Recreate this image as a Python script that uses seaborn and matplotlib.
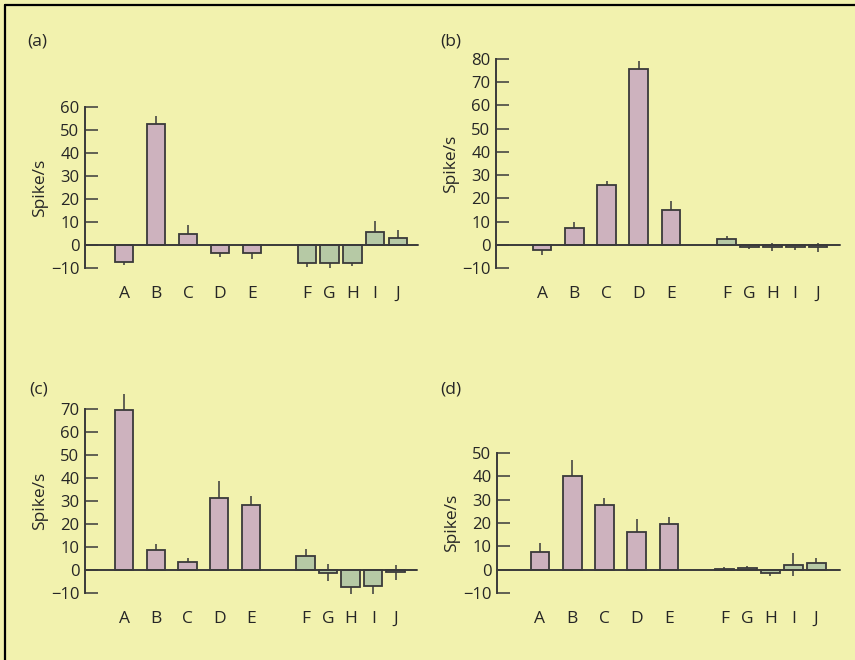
import numpy as np
import pandas as pd
import matplotlib
matplotlib.use('Agg')
import matplotlib.pyplot as plt
import seaborn as sns
from matplotlib.lines import Line2D

# Data (spike/s, mean and error)
categories = ['A', 'B', 'C', 'D', 'E', 'F', 'G', 'H', 'I', 'J']
groups = ['pink'] * 5 + ['green'] * 5

vals_a = [-7.5, 52.8, 4.8, -3.5, -3.5, -7.9, -7.9, -7.9, 5.8, 3.2]
err_a = [1.2, 3.2, 3.7, 1.8, 2.6, 1.5, 2.0, 1.3, 4.7, 3.3]
vals_b = [-2.4, 7.1, 25.7, 75.6, 14.9, 2.6, -1.0, -1.0, -1.0, -1.0]
err_b = [2.2, 2.8, 1.6, 3.5, 4.0, 1.3, 1.0, 1.7, 1.4, 1.9]
vals_c = [69.7, 8.8, 3.3, 31.2, 28.4, 6.2, -1.1, -7.4, -6.8, -1.0]
err_c = [6.8, 2.3, 1.9, 7.4, 3.9, 2.9, 3.6, 3.0, 3.6, 3.2]
vals_d = [7.7, 40.0, 27.6, 16.1, 19.7, 0.3, 0.6, -1.3, 2.1, 3.0]
err_d = [3.9, 7.1, 3.1, 5.5, 2.9, 1.0, 1.0, 1.3, 5.0, 1.9]

# colours
BG = '#F2F2AE'
PINK = '#CDB2BE'
GREEN = '#B6C9A5'
EDGE = '#3A3A3A'
TXT = '#262626'

W, H = 855, 660

sns.set_style('ticks')
plt.rcParams['font.family'] = ['Open Sans', 'DejaVu Sans']
plt.rcParams['font.weight'] = 'medium'

# bar positions: two clusters, the second one packed tighter
xpos = list(np.arange(5)) + list(5.72 + 0.71 * np.arange(5))

# label, values, errors, top tick, (left, right, top, bottom) in px, xlim, label pos
panels = [
    ('(a)', vals_a, err_a, 60, (85, 418, 107, 268), (-1.22, 9.19), (27, 42)),
    ('(b)', vals_b, err_b, 80, (496, 840, 59, 268), (-1.43, 9.24), (440, 42)),
    ('(c)', vals_c, err_c, 70, (85, 417, 409, 593), (-1.23, 9.23), (29, 389)),
    ('(d)', vals_d, err_d, 50, (497, 840, 453, 593), (-1.33, 9.30), (440, 389)),
]

fig = plt.figure(figsize=(W / 100, H / 100), dpi=100)
fig.patch.set_facecolor(BG)

for label, vals, errs, top, (l, r, t, b), xl, (lx, ly) in panels:
    ax = fig.add_axes([l / W, 1 - b / H, (r - l) / W, (b - t) / H])
    ax.set_facecolor('none')
    df = pd.DataFrame({'pos': xpos, 'val': vals, 'grp': groups})

    # error lines sit behind the bars, so only the outer half shows
    ax.errorbar(xpos, vals, yerr=errs, fmt='none', ecolor=EDGE,
                elinewidth=1.1, capsize=0, zorder=1)
    sns.barplot(data=df, x='pos', y='val', hue='grp',
                palette={'pink': PINK, 'green': GREEN}, native_scale=True,
                width=0.82, edgecolor=EDGE, linewidth=1.3, errorbar=None,
                saturation=1, legend=False, dodge=False, ax=ax, zorder=2)
    ax.axhline(0, color=EDGE, lw=1.4, zorder=3)

    for art in ax.patches + ax.lines + ax.collections:
        art.set_clip_on(False)

    ax.set_xlim(*xl)
    ax.set_ylim(-10, top)
    ax.set_yticks(range(-10, top + 1, 10))
    ax.set_xticks(xpos, categories)
    ax.set_xlabel('')
    ax.set_ylabel('Spike/s', fontsize=12.5, color=TXT, labelpad=2)

    for s in ['top', 'right', 'bottom']:
        ax.spines[s].set_visible(False)
    ax.spines['left'].set_color(EDGE)
    ax.spines['left'].set_linewidth(1.4)

    ax.tick_params(axis='y', direction='in', length=9.5, width=1.1,
                   color=EDGE, labelcolor=TXT, labelsize=12, pad=4)
    ax.tick_params(axis='x', length=0, labelcolor=TXT, labelsize=12.5, pad=13)

    fig.text(lx / W, 1 - ly / H, label, ha='left', va='center',
             fontsize=12.5, color=TXT)

# frame lines along top and left edge
fig.add_artist(Line2D([5 / W, 5 / W], [0, 1 - 5 / H], transform=fig.transFigure,
                      color='black', lw=1.6))
fig.add_artist(Line2D([5 / W, 1], [1 - 5 / H, 1 - 5 / H], transform=fig.transFigure,
                      color='black', lw=1.6))

fig.savefig('out.png', dpi=100, facecolor=fig.get_facecolor())
